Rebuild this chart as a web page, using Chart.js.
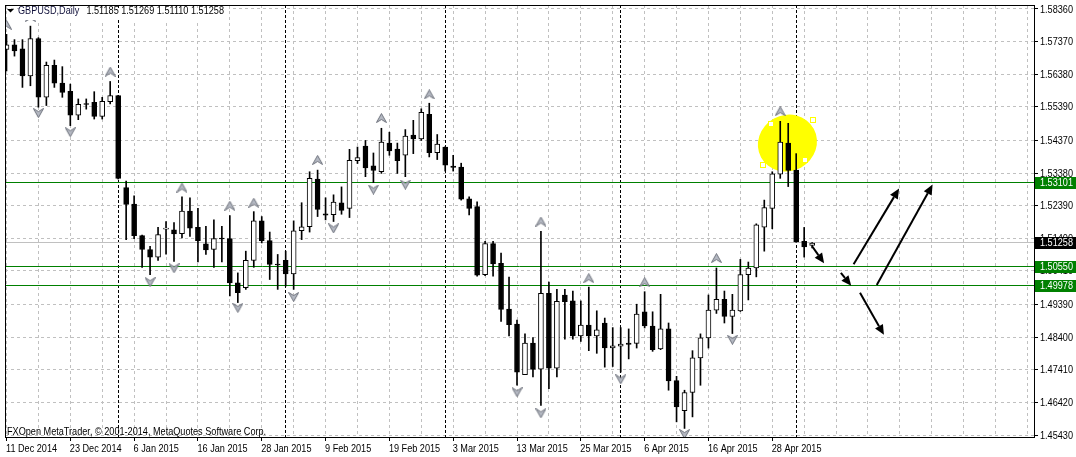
<!DOCTYPE html>
<html>
<head>
<title>GBPUSD Daily</title>
<script src="https://cdn.jsdelivr.net/npm/chart.js"></script>
<style>
  html, body { margin: 0; padding: 0; background: #fff; overflow: hidden; }
  #wrap { width: 1076px; height: 457px; position: relative; }
</style>
</head>
<body>
<div id="wrap"><canvas id="c"></canvas></div>
<script>
// daily bars, index 0 = 11 Dec 2014 ... 101 = 5 May 2015
const opens = [1.5713,1.5727,1.5715,1.5633,1.5746,1.5568,1.5665,1.5611,1.5586,1.5514,
  1.5547,1.5553,1.5510,1.5555,1.5573,1.5294,1.5244,1.5148,1.5106,1.5083,
  1.5168,1.5166,1.5154,1.5223,1.5173,1.5123,1.5106,1.5139,1.5139,1.5005,
  1.4990,1.5073,1.5193,1.5133,1.5060,1.5073,1.5032,1.5163,1.5175,1.5320,
  1.5214,1.5212,1.5248,1.5231,1.5376,1.5420,1.5360,1.5342,1.5429,1.5411,
  1.5392,1.5453,1.5442,1.5516,1.5400,1.5417,1.5359,1.5356,1.5260,1.5236,
  1.5030,1.5124,1.5064,1.4925,1.4880,1.4726,1.4822,1.4743,1.4973,1.4746,
  1.4968,1.4950,1.4844,1.4877,1.4844,1.4883,1.4807,1.4813,1.4822,1.4821,
  1.4917,1.4874,1.4804,1.4865,1.4708,1.4617,1.4672,1.4777,1.4838,1.4922,
  1.4955,1.4903,1.4920,1.5030,1.5050,1.5174,1.5231,1.5335,1.5429,1.5347,
  1.5131,1.51185];
const highs = [1.5759,1.5743,1.5743,1.5784,1.5749,1.5675,1.5681,1.5661,1.5608,1.5563,
  1.5563,1.5585,1.5568,1.5616,1.5574,1.5314,1.5269,1.5150,1.5116,1.5173,
  1.5191,1.5188,1.5266,1.5263,1.5231,1.5176,1.5196,1.5176,1.5209,1.5035,
  1.5101,1.5221,1.5206,1.5159,1.5091,1.5101,1.5193,1.5248,1.5342,1.5347,
  1.5263,1.5272,1.5296,1.5410,1.5417,1.5437,1.5399,1.5474,1.5462,1.5429,
  1.5470,1.5498,1.5533,1.5550,1.5455,1.5418,1.5392,1.5368,1.5266,1.5251,
  1.5131,1.5131,1.5095,1.5022,1.4892,1.4850,1.4839,1.5161,1.5007,1.4985,
  1.4985,1.4980,1.4950,1.4992,1.4920,1.4898,1.4869,1.4869,1.4865,1.4940,
  1.4978,1.4917,1.4970,1.4883,1.4721,1.4679,1.4799,1.4850,1.4968,1.5050,
  1.4980,1.4970,1.5076,1.5068,1.5184,1.5256,1.5342,1.5495,1.5489,1.5397,
  1.5173,1.51269];
const lows = [1.5648,1.5693,1.5598,1.5603,1.5538,1.5543,1.5598,1.5568,1.5482,1.5500,
  1.5532,1.5502,1.5502,1.5548,1.5320,1.5136,1.5139,1.5052,1.5030,1.5073,
  1.5092,1.5070,1.5141,1.5146,1.5068,1.5091,1.5052,1.5068,1.4965,1.4945,
  1.4985,1.5052,1.5126,1.5015,1.4985,1.4995,1.4985,1.5136,1.5159,1.5206,
  1.5196,1.5191,1.5213,1.5203,1.5367,1.5327,1.5309,1.5337,1.5392,1.5337,
  1.5327,1.5397,1.5437,1.5387,1.5379,1.5344,1.5344,1.5256,1.5211,1.5025,
  1.5027,1.5025,1.4888,1.4844,1.4694,1.4726,1.4719,1.4633,1.4684,1.4719,
  1.4834,1.4834,1.4827,1.4799,1.4791,1.4749,1.4751,1.4734,1.4774,1.4807,
  1.4868,1.4797,1.4802,1.4679,1.4583,1.4563,1.4598,1.4694,1.4807,1.4912,
  1.4883,1.4851,1.4918,1.4953,1.5023,1.5101,1.5169,1.5322,1.5297,1.5128,
  1.5083,1.51110];
const closes = [1.5727,1.5709,1.5633,1.5746,1.5568,1.5665,1.5611,1.5583,1.5514,1.5547,
  1.5546,1.5510,1.5556,1.5573,1.5322,1.5243,1.5148,1.5106,1.5083,1.5151,
  1.5169,1.5153,1.5223,1.5171,1.5133,1.5105,1.5139,1.5138,1.5005,1.4975,
  1.5073,1.5193,1.5133,1.5061,1.5059,1.5032,1.5163,1.5175,1.5322,1.5228,
  1.5210,1.5250,1.5225,1.5377,1.5385,1.5354,1.5346,1.5432,1.5405,1.5376,
  1.5450,1.5442,1.5522,1.5400,1.5426,1.5362,1.5355,1.5259,1.5231,1.5028,
  1.5124,1.5062,1.4924,1.4878,1.4734,1.4822,1.4742,1.4973,1.4746,1.4949,
  1.4948,1.4844,1.4877,1.4844,1.4862,1.4807,1.4814,1.4819,1.4818,1.4910,
  1.4874,1.4802,1.4865,1.4707,1.4628,1.4672,1.4777,1.4838,1.4922,1.4955,
  1.4903,1.4922,1.5030,1.5050,1.5181,1.5233,1.5336,1.5432,1.5346,1.5129,
  1.5114,1.51258];

// time axis
const tickBars = [0, 8, 16, 24, 32, 40, 48, 56, 64, 72, 80, 88, 96];
const tickLabels = ['11 Dec 2014', '23 Dec 2014', '6 Jan 2015', '16 Jan 2015', '28 Jan 2015',
  '9 Feb 2015', '19 Feb 2015', '3 Mar 2015', '13 Mar 2015', '25 Mar 2015',
  '6 Apr 2015', '16 Apr 2015', '28 Apr 2015'];
const separatorBars = [14, 35, 55, 77, 99];   // first bar of each month
const gridBars = [];
for (let b = 0; b <= 128; b += 4) gridBars.push(b);

// price axis
const priceTicks = [1.58360, 1.57370, 1.56380, 1.55390, 1.54370, 1.53380, 1.52390,
  1.51400, 1.50410, 1.49390, 1.48400, 1.47410, 1.46420, 1.45430];
const yMax = 1.58481, yMin = 1.45370;

// fractals [bar, price]
const fractalUp = [[0,1.5788],[3,1.5812],[13,1.5646],[22,1.5294],[28,1.5239],[31,1.5248],
  [39,1.5378],[47,1.5505],[53,1.5577],[67,1.5191],[73,1.5019],[80,1.5007],[89,1.5080],[97,1.5526]];
const fractalDown = [[4,1.5520],[8,1.5462],[18,1.5007],[21,1.5049],[29,1.4929],[36,1.4962],
  [41,1.5170],[46,1.5288],[50,1.5303],[64,1.4673],[67,1.4609],[77,1.4712],[85,1.4546],[91,1.4832]];

// objects drawn on the chart
const greenLevels = [1.53101, 1.50550, 1.49978];
const bidPrice = 1.51258;
const arrows = [[101.0,1.5116,102.5,1.5064],[104.6,1.5035,105.9,1.4996],
  [106.2,1.5061,111.9,1.5291],[109.1,1.4998,116.1,1.5303],[107.0,1.4975,110.0,1.4847]];
const ellipseCenter = [97.9, 1.5429];
const ellipseAnchors = [[95.8,1.5486],[101.1,1.5498],[94.9,1.5363],[100.1,1.5378]];

const FONT = '11px "Liberation Sans", Arial, sans-serif';
const SX = 0.83;   // squeeze text horizontally, MT4 uses a narrow bitmap font

function txt(ctx, s, x, y) {
  ctx.save();
  ctx.translate(x, y);
  ctx.scale(SX, 1);
  ctx.fillText(s, 0, 0);
  ctx.restore();
}

function fractalIcon(up) {
  const c = document.createElement('canvas');
  c.width = 11; c.height = 10;
  const g = c.getContext('2d');
  g.beginPath();
  if (up) { g.moveTo(5.5, 0.5); g.lineTo(10.5, 9.5); g.lineTo(5.5, 6.5); g.lineTo(0.5, 9.5); }
  else { g.moveTo(5.5, 9.5); g.lineTo(10.5, 0.5); g.lineTo(5.5, 3.5); g.lineTo(0.5, 0.5); }
  g.closePath();
  g.fillStyle = '#b4b8c2';
  g.fill();
  g.strokeStyle = '#6e727c';
  g.lineWidth = 1;
  g.stroke();
  return c;
}

function drawArrow(ctx, x1, y1, x2, y2) {
  const a = Math.atan2(y2 - y1, x2 - x1);
  const hl = 10, hw = 4.5;
  const bx = x2 - hl * Math.cos(a), by = y2 - hl * Math.sin(a);
  ctx.beginPath();
  ctx.moveTo(x1, y1);
  ctx.lineTo(bx, by);
  ctx.lineWidth = 2;
  ctx.stroke();
  ctx.beginPath();
  ctx.moveTo(x2, y2);
  ctx.lineTo(bx + hw * Math.sin(a), by - hw * Math.cos(a));
  ctx.lineTo(bx - hw * Math.sin(a), by + hw * Math.cos(a));
  ctx.closePath();
  ctx.fill();
}

const mt4 = {
  id: 'mt4',
  beforeDatasetsDraw(chart) {
    const { ctx, chartArea: a, scales: { x, y } } = chart;
    ctx.save();
    // month separators
    ctx.strokeStyle = '#000';
    ctx.lineWidth = 1;
    ctx.setLineDash([3, 2]);
    separatorBars.forEach(b => {
      const px = Math.floor(x.getPixelForValue(b)) + 0.5;
      ctx.beginPath(); ctx.moveTo(px, a.top); ctx.lineTo(px, a.bottom); ctx.stroke();
    });
    ctx.setLineDash([]);
    // highlight ellipse
    ctx.fillStyle = '#ffff00';
    ctx.beginPath();
    ctx.ellipse(x.getPixelForValue(ellipseCenter[0]), y.getPixelForValue(ellipseCenter[1]), 30, 28, -0.5, 0, Math.PI * 2);
    ctx.fill();
    // horizontal levels
    const hline = (v, col) => {
      const py = Math.floor(y.getPixelForValue(v)) + 0.5;
      ctx.strokeStyle = col;
      ctx.beginPath(); ctx.moveTo(a.left, py); ctx.lineTo(a.right, py); ctx.stroke();
    };
    hline(bidPrice, '#c0c0c0');
    greenLevels.forEach(v => hline(v, '#008000'));
    ctx.restore();
  },
  afterDatasetsDraw(chart) {
    const { ctx, chartArea: a, scales: { x, y } } = chart;
    ctx.save();
    // ellipse anchor handles
    ctx.fillStyle = '#fff';
    ctx.strokeStyle = '#ffff00';
    ctx.lineWidth = 1;
    ellipseAnchors.forEach(([b, p]) => {
      const px = Math.round(x.getPixelForValue(b)), py = Math.round(y.getPixelForValue(p));
      ctx.fillRect(px - 2, py - 2, 4, 4);
      ctx.strokeRect(px - 2.5, py - 2.5, 5, 5);
    });
    // arrows
    ctx.fillStyle = '#000';
    ctx.strokeStyle = '#000';
    arrows.forEach(([b1, p1, b2, p2]) => drawArrow(ctx, x.getPixelForValue(b1), y.getPixelForValue(p1),
      x.getPixelForValue(b2), y.getPixelForValue(p2)));
    // frame
    ctx.lineWidth = 1;
    ctx.strokeRect(a.left + 0.5, a.top + 0.5, a.right - a.left, a.bottom - a.top);

    ctx.font = FONT;
    ctx.textBaseline = 'middle';
    ctx.textAlign = 'left';
    // header
    const last = opens.length - 1;
    const ohlc = [opens[last], highs[last], lows[last], closes[last]].map(v => v.toFixed(5)).join(' ');
    const w1 = ctx.measureText('GBPUSD,Daily').width * SX;
    const w2 = ctx.measureText(ohlc).width * SX;
    ctx.fillStyle = '#fff';
    ctx.fillRect(a.left + 15, a.top + 3, w1 + w2 + 10, 12);
    ctx.fillStyle = '#000';
    ctx.beginPath(); ctx.moveTo(7, 9); ctx.lineTo(14, 9); ctx.lineTo(10.5, 12.5); ctx.closePath(); ctx.fill();
    ctx.fillStyle = '#10103a';
    txt(ctx, 'GBPUSD,Daily', 18, 10.5);
    ctx.fillStyle = '#000';
    txt(ctx, ohlc, 18 + w1 + 7, 10.5);
    // copyright
    txt(ctx, 'FXOpen MetaTrader, \u00a9 2001-2014, MetaQuotes Software Corp.', 7, 431.5);
    // time labels
    tickBars.forEach((b, i) => txt(ctx, tickLabels[i], x.getPixelForValue(b) - 0.5, 449));
    // price labels
    priceTicks.forEach(v => txt(ctx, v.toFixed(5), a.right + 6, y.getPixelForValue(v) + 0.5));
    // price boxes on the scale
    const box = (v, col) => {
      const py = Math.floor(y.getPixelForValue(v));
      ctx.fillStyle = col;
      ctx.fillRect(a.right + 1, py - 5, chart.width - a.right - 1, 12);
      ctx.fillStyle = '#fff';
      txt(ctx, v.toFixed(5), a.right + 6, py + 1);
    };
    greenLevels.forEach(v => box(v, '#008000'));
    box(bidPrice, '#000');
    ctx.restore();
  }
};

const idx = opens.map((_, i) => i);
const upIcon = fractalIcon(true), downIcon = fractalIcon(false);

new Chart(document.getElementById('c'), {
  type: 'bar',
  data: {
    datasets: [
      {
        type: 'line', order: 1, showLine: false,
        data: fractalUp.map(([b, p]) => ({ x: b, y: p })),
        pointStyle: upIcon
      },
      {
        type: 'line', order: 1, showLine: false,
        data: fractalDown.map(([b, p]) => ({ x: b, y: p })),
        pointStyle: downIcon
      },
      {
        order: 2, grouped: false,
        data: idx.map(i => ({ x: i, y: [opens[i], closes[i]] })),
        backgroundColor: c => closes[c.dataIndex] >= opens[c.dataIndex] ? '#fff' : '#000',
        borderColor: '#000', borderWidth: 1, borderSkipped: false,
        barThickness: 5, minBarLength: 1
      },
      {
        order: 3, grouped: false,
        data: idx.map(i => ({ x: i, y: [lows[i], highs[i]] })),
        backgroundColor: '#000', borderWidth: 0,
        barThickness: 1
      }
    ]
  },
  options: {
    responsive: true,
    maintainAspectRatio: false,
    animation: false,
    events: [],
    layout: { padding: { left: 2, top: 2, right: 0, bottom: 0 } },
    plugins: { legend: { display: false }, tooltip: { enabled: false } },
    scales: {
      x: {
        type: 'linear', position: 'bottom', offset: false,
        min: -0.1875, max: 128.8125,
        afterBuildTicks: s => { s.ticks = gridBars.map(v => ({ value: v })); },
        afterFit: s => { s.height = 20; },
        ticks: { display: false },
        grid: {
          offset: false, color: '#c0c0c0', lineWidth: 1, tickLength: 4, tickBorderDash: [],
          tickColor: c => (c.tick && tickBars.includes(c.tick.value)) ? '#000' : 'rgba(0,0,0,0)'
        },
        border: { display: false, dash: [3, 3] }
      },
      y: {
        type: 'linear', position: 'right',
        min: yMin, max: yMax,
        afterBuildTicks: s => { s.ticks = priceTicks.map(v => ({ value: v })); },
        afterFit: s => { s.width = 42; },
        ticks: { display: false },
        grid: { color: '#c0c0c0', lineWidth: 1, tickLength: 4, tickColor: '#000', tickBorderDash: [] },
        border: { display: false, dash: [3, 3] }
      }
    }
  },
  plugins: [mt4]
});
</script>
</body>
</html>
